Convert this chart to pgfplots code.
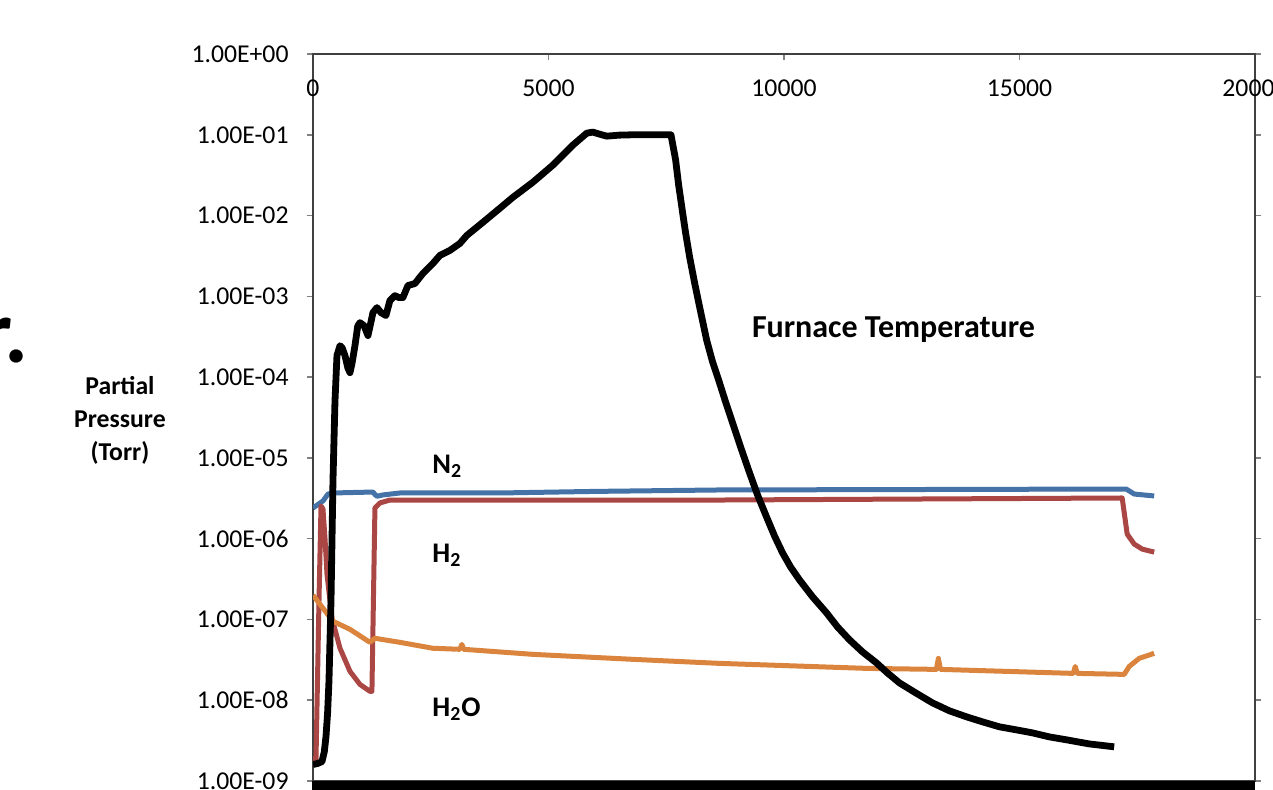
\documentclass[border=0pt]{standalone}
\usepackage{fontspec}
\setmainfont{Carlito}
\usepackage{pgfplots}
\pgfplotsset{compat=1.18}
\definecolor{nblue}{HTML}{4572A7}
\definecolor{hred}{HTML}{AA4643}
\definecolor{worange}{HTML}{DB843D}
\definecolor{tickgray}{HTML}{808080}

\begin{document}
\begin{tikzpicture}
\begin{axis}[
  at={(0,0)}, anchor=south west,
  scale only axis, width=471pt, height=363.5pt,
  xmin=0, xmax=20000, ymode=log, ymin=1e-9, ymax=1,
  scaled x ticks=false,
  xtick={0,5000,10000,15000,20000},
  xticklabels={0,5000,10000,15000,20000},
  xtick pos=upper, xticklabel pos=upper, xtick align=inside,
  xticklabel style={anchor=center, yshift=-17pt},
  ytick={1e-9,1e-8,1e-7,1e-6,1e-5,1e-4,1e-3,1e-2,1e-1,1},
  yticklabels={1.00E-09,1.00E-08,1.00E-07,1.00E-06,1.00E-05,1.00E-04,1.00E-03,1.00E-02,1.00E-01,1.00E+00},
  ytick align=outside, ytick pos=both, yticklabel pos=left,
  major tick length=3pt, minor tick length=0pt,
  tick style={color=tickgray, line width=0.8pt},
  axis line style={line width=1.2pt, color=black!75},
  tick label style={font=\fontsize{12.85}{15}\selectfont},
  yticklabel style={xshift=-5.7pt},
  clip=true,
]
\addplot[nblue, line width=2.5pt, line join=round] coordinates {
(0,2.40e-6) (212,2.93e-6) (318,3.57e-6) (424,3.68e-6) (1273,3.78e-6) (1320,3.5e-6) (1358,3.35e-6) (1485,3.48e-6) (1845,3.68e-6) (3966,3.68e-6) (6000,3.85e-6) (8632,4.01e-6) (12000,4.05e-6) (17265,4.12e-6) (17435,3.57e-6) (17859,3.38e-6)
};
\addplot[hred, line width=2.5pt, line join=round] coordinates {
(0,1.9e-9) (64,1.9e-9) (127,1.68e-7) (170,2.54e-6) (212,2.33e-6) (255,1.0e-6) (297,3.64e-7) (403,1.035e-7) (573,4.40e-8) (785,2.28e-8) (997,1.57e-8) (1209,1.29e-8) (1251,1.29e-8) (1315,2.40e-6) (1421,2.77e-6) (1633,3.01e-6) (8632,3.01e-6) (12000,3.08e-6) (17180,3.19e-6) (17286,1.14e-6) (17435,8.57e-7) (17605,7.43e-7) (17859,6.82e-7)
};
\addplot[worange, line width=2.5pt, line join=round] coordinates {
(0,2.0e-7) (424,9.5e-8) (785,7.55e-8) (1209,5.21e-8) (1315,5.85e-8) (1845,5.21e-8) (2545,4.40e-8) (3118,4.27e-8) (3160,4.92e-8) (3200,4.27e-8) (4666,3.70e-8) (6787,3.21e-8) (8632,2.86e-8) (11750,2.48e-8) (13235,2.41e-8) (13278,3.30e-8) (13320,2.41e-8) (16141,2.15e-8) (16183,2.62e-8) (16225,2.15e-8) (17223,2.09e-8) (17329,2.62e-8) (17541,3.30e-8) (17859,3.81e-8)
};
\addplot[black, line width=3.4pt, line join=round] coordinates {
(0,1.6e-9) (100,1.65e-9) (191,1.74e-9) (240,2.3e-9) (276,3.56e-9) (310,7e-9) (339,1.71e-8) (382,1.68e-7) (424,5.19e-6) (467,5.09e-5) (509,1.85e-4) (573,2.45e-4) (620,2.3e-4) (679,1.85e-4) (740,1.3e-4) (785,1.135e-4) (830,1.5e-4) (891,2.45e-4) (950,4.3e-4) (997,4.73e-4) (1082,4.34e-4) (1167,3.27e-4) (1220,4.5e-4) (1273,6.30e-4) (1358,7.26e-4) (1442,6.30e-4) (1548,5.78e-4) (1633,8.87e-4) (1739,1.02e-3) (1824,9.66e-4) (1909,9.66e-4) (2015,1.36e-3) (2163,1.44e-3) (2333,1.92e-3) (2545,2.55e-3) (2694,3.21e-3) (2906,3.70e-3) (3118,4.52e-3) (3266,5.68e-3) (3606,8.24e-3) (3966,1.23e-2) (4242,1.68e-2) (4666,2.58e-2) (5090,4.20e-2) (5515,7.43e-2) (5812,0.1047) (5939,0.108) (6087,0.1017) (6236,0.0962) (6500,0.099) (6787,0.1) (7200,0.1) (7600,0.1)
(7699,4.88e-2) (7763,2.39e-2) (7848,1.08e-2) (7911,6.1e-3) (7996,3.07e-3) (8102,1.47e-3) (8208,7.4e-4) (8357,2.88e-4) (8484,1.54e-4) (8632,8.47e-5) (8760,4.93e-5) (8908,2.71e-5) (9078,1.37e-5) (9269,6.52e-6) (9438,3.48e-6) (9629,1.86e-6) (9799,1.08e-6) (9969,6.67e-7) (10138,4.48e-7) (10329,3.09e-7) (10605,1.91e-7) (10902,1.21e-7) (11135,8.09e-8) (11390,5.60e-8) (11666,3.97e-8) (11963,2.90e-8) (12196,2.18e-8) (12451,1.64e-8) (12790,1.24e-8) (13151,9.29e-9) (13511,7.40e-9) (13872,6.24e-9) (14211,5.41e-9) (14572,4.69e-9) (14932,4.30e-9) (15272,3.95e-9) (15632,3.52e-9) (15993,3.24e-9) (16480,2.88e-9) (17010,2.65e-9)
};
\end{axis}
% thick bottom line
\draw[black, line width=5pt] (-0.5pt,-2.5pt) -- (471pt,-2.5pt);
% annotations
\node[anchor=base, font=\bfseries\fontsize{16}{18}\selectfont, inner sep=0pt] at (290.25pt,222pt) {Furnace Temperature};
\node[anchor=base west, font=\bfseries\fontsize{14.2}{17}\selectfont, inner sep=0pt] at (59.5pt,154pt) {N\textsubscript{2}};
\node[anchor=base west, font=\bfseries\fontsize{14.2}{17}\selectfont, inner sep=0pt] at (59.5pt,109.5pt) {H\textsubscript{2}};
\node[anchor=base west, font=\bfseries\fontsize{14.2}{17}\selectfont, inner sep=0pt] at (59.5pt,32.5pt) {H\textsubscript{2}O};
\node[align=center, font=\bfseries\fontsize{12.85}{16.5}\selectfont] at (-96.5pt,180.5pt) {Partial\\Pressure\\(Torr)};
\node[anchor=base east, font=\bfseries\fontsize{45}{50}\selectfont, inner sep=0pt] at (-142pt,209.5pt) {r.};
\pgfresetboundingbox
\path[use as bounding box] (-156.5pt,-4pt) rectangle (480pt,390.5pt);
\end{tikzpicture}
\end{document}
